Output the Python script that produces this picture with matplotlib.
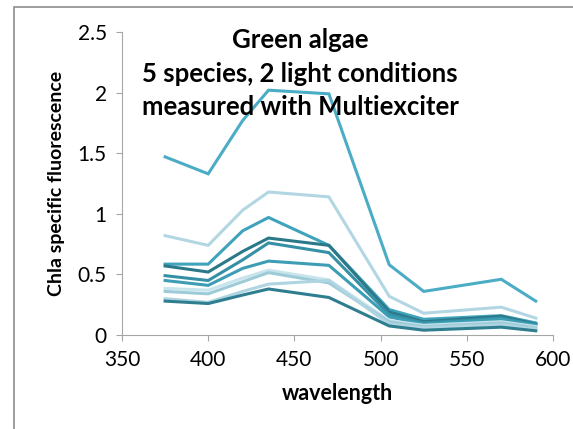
#!/usr/bin/env python3

import matplotlib
matplotlib.use("Agg")
import matplotlib.pyplot as plt
from matplotlib.patches import Rectangle

plt.rcParams['font.family'] = ['Lato', 'DejaVu Sans']

# wavelengths of the Multiexciter LEDs
wavelength = [375, 400, 420, 435, 470, 505, 525, 570, 590]

# 5 species x 2 light conditions
s1 = [1.47, 1.33, 1.77, 2.02, 1.99, 0.58, 0.36, 0.46, 0.28]
s2 = [0.82, 0.74, 1.03, 1.18, 1.14, 0.32, 0.18, 0.23, 0.14]
s3 = [0.585, 0.585, 0.86, 0.97, 0.74, 0.21, 0.13, 0.16, 0.10]
s4 = [0.57, 0.52, 0.69, 0.80, 0.74, 0.19, 0.11, 0.155, 0.09]
s5 = [0.49, 0.45, 0.62, 0.76, 0.68, 0.17, 0.10, 0.14, 0.085]
s6 = [0.45, 0.41, 0.55, 0.61, 0.575, 0.15, 0.09, 0.13, 0.08]
s7 = [0.385, 0.37, 0.47, 0.535, 0.455, 0.12, 0.08, 0.11, 0.07]
s8 = [0.36, 0.34, 0.44, 0.515, 0.43, 0.11, 0.07, 0.10, 0.06]
s9 = [0.30, 0.27, 0.36, 0.42, 0.45, 0.09, 0.06, 0.085, 0.05]
s10 = [0.28, 0.26, 0.33, 0.38, 0.31, 0.075, 0.04, 0.065, 0.035]

series = [s1, s2, s3, s4, s5, s6, s7, s8, s9, s10]
colors = ['#4BACC6', '#B2D7E3', '#3FA3BB', '#2B7888', '#3590A6',
          '#3C9DB4', '#C8E4EC', '#9ECBD8', '#AED5E1', '#2F7E8F']

fig = plt.figure(figsize=(5.73, 4.29), dpi=100)
ax = fig.add_axes([0.2129, 0.219, 0.7522, 0.7064])

# chart frame (runs off the right and bottom of the picture)
fig.patches.append(Rectangle((14 / 573, -0.1), 1.2, (429 - 7) / 429 + 0.1,
                             transform=fig.transFigure, fill=False,
                             edgecolor='#8C8C8C', linewidth=1.2))

for ys, c in zip(series, colors):
    ax.plot(wavelength, ys, color=c, linewidth=2.2, solid_joinstyle='miter')

ax.set_xlim(350, 600)
ax.set_ylim(0, 2.5)
ax.set_xticks([350, 400, 450, 500, 550, 600])
ax.set_yticks([0, 0.5, 1, 1.5, 2, 2.5])
ax.set_yticklabels(['0', '0.5', '1', '1.5', '2', '2.5'])
ax.tick_params(labelsize=15, colors='#A6A6A6', labelcolor='black', length=4)
ax.tick_params(axis='y', pad=7)
ax.tick_params(axis='x', pad=7)

for side in ['top', 'right']:
    ax.spines[side].set_visible(False)
for side in ['left', 'bottom']:
    ax.spines[side].set_color('#A6A6A6')

ax.set_xlabel('wavelength', fontsize=15.5, fontweight='bold', labelpad=9)
ax.set_ylabel('Chla specific fluorescence', fontsize=14, fontweight='bold', labelpad=9)

fig.text(300 / 573, 1 - 40 / 429, 'Green algae', ha='center', va='center',
         fontsize=18.5, fontweight='bold')
fig.text(300 / 573, 1 - 74 / 429, '5 species, 2 light conditions', ha='center',
         va='center', fontsize=18.5, fontweight='bold')
fig.text(300 / 573, 1 - 107 / 429, 'measured with Multiexciter', ha='center',
         va='center', fontsize=18.5, fontweight='bold')

fig.savefig('out.png', dpi=100)
